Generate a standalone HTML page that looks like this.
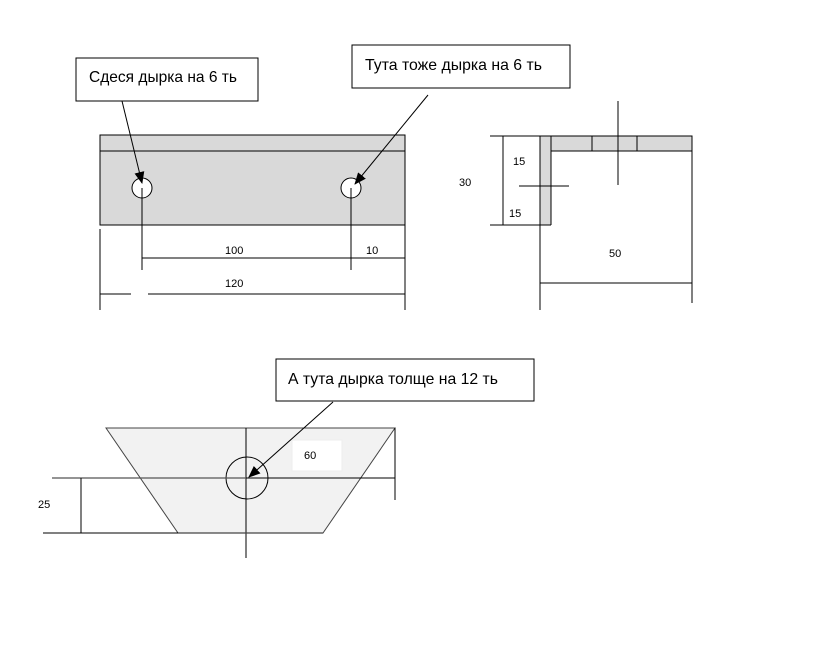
<!DOCTYPE html>
<html><head><meta charset="utf-8"><style>
html,body{margin:0;padding:0;background:#fff;}
svg{display:block;}
text{font-family:"Liberation Sans","DejaVu Sans",sans-serif;}
</style></head><body>
<svg width="817" height="647" viewBox="0 0 817 647" xmlns="http://www.w3.org/2000/svg">
<defs><marker id="ah" markerWidth="12" markerHeight="10" refX="11" refY="5" orient="auto" markerUnits="userSpaceOnUse"><path d="M0,0 L12,5 L0,10 z" fill="#000"/></marker></defs>
<g stroke="#000" stroke-width="1" fill="none">
<rect x="100" y="135" width="305" height="90" fill="#d9d9d9"/>
<line x1="100" y1="151" x2="405" y2="151"/>
<circle cx="142" cy="188" r="10" fill="#fff"/>
<circle cx="351" cy="188" r="10" fill="#fff"/>
<line x1="142" y1="188" x2="142" y2="270"/>
<line x1="351" y1="188" x2="351" y2="270"/>
<line x1="142" y1="258" x2="405" y2="258"/>
<line x1="100" y1="229" x2="100" y2="310"/>
<line x1="405" y1="225" x2="405" y2="310"/>
<line x1="100" y1="294" x2="131" y2="294"/>
<line x1="148" y1="294" x2="405" y2="294"/>
<rect x="76" y="58" width="182" height="43" fill="#fff"/>
<rect x="352" y="45" width="218" height="43" fill="#fff"/>
<line x1="122" y1="101" x2="142" y2="183" marker-end="url(#ah)"/>
<line x1="428" y1="95" x2="355" y2="184" marker-end="url(#ah)"/>
<rect x="540" y="136" width="11" height="89" fill="#d9d9d9" stroke="none"/>
<rect x="551" y="136" width="141" height="15" fill="#d9d9d9"/>
<line x1="592" y1="136" x2="592" y2="151"/>
<line x1="637" y1="136" x2="637" y2="151"/>
<line x1="490" y1="136" x2="692" y2="136"/>
<line x1="551" y1="151" x2="551" y2="225"/>
<line x1="540" y1="136" x2="540" y2="310"/>
<line x1="692" y1="136" x2="692" y2="303"/>
<line x1="540" y1="283" x2="692" y2="283"/>
<line x1="618" y1="101" x2="618" y2="185"/>
<line x1="519" y1="186" x2="569" y2="186"/>
<line x1="503" y1="136" x2="503" y2="225"/>
<line x1="490" y1="225" x2="551" y2="225"/>
<polygon points="106,428 395,428 323,533 178,533" fill="#f2f2f2" stroke="#444"/>
<rect x="292" y="440" width="50" height="31" fill="#fff" stroke="#eee"/>
<line x1="246" y1="428" x2="246" y2="558"/>
<circle cx="247" cy="478" r="21"/>
<line x1="52" y1="478" x2="246" y2="478" stroke="#555" stroke-width="1.3"/>
<line x1="246" y1="478" x2="395" y2="478"/>
<line x1="395" y1="428" x2="395" y2="500"/>
<line x1="43" y1="533" x2="178" y2="533"/>
<line x1="178" y1="533" x2="323" y2="533" stroke="#444" stroke-width="1.3"/>
<line x1="81" y1="478" x2="81" y2="533"/>
<rect x="276" y="359" width="258" height="42" fill="#fff"/>
<line x1="333" y1="402" x2="249" y2="477" marker-end="url(#ah)"/>
</g>
<g fill="#000">
<text x="89" y="82" font-size="16" textLength="148" lengthAdjust="spacingAndGlyphs">Сдеся дырка на 6 ть</text>
<text x="365" y="70" font-size="16" textLength="177" lengthAdjust="spacingAndGlyphs">Тута тоже дырка на 6 ть</text>
<text x="288" y="384" font-size="16" textLength="210" lengthAdjust="spacingAndGlyphs">А тута дырка толще на 12 ть</text>
<g font-size="11">
<text x="225" y="254">100</text>
<text x="366" y="254">10</text>
<text x="225" y="287">120</text>
<text x="513" y="165">15</text>
<text x="509" y="217">15</text>
<text x="459" y="186">30</text>
<text x="609" y="257">50</text>
<text x="304" y="459">60</text>
<text x="38" y="508">25</text>
</g>
</g>
</svg>
</body></html>
